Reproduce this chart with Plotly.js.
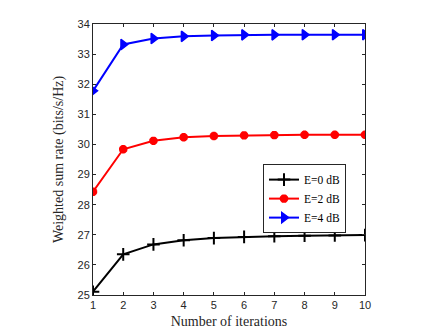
<!DOCTYPE html>
<html>
<head>
<meta charset="utf-8">
<script src="https://cdn.plot.ly/plotly-3.0.1.min.js"></script>
<style>
  body { margin: 0; background: #fff; }
  #chart { width: 443px; height: 332px; }
</style>
</head>
<body>
<div id="chart"></div>
<script>
// Data
const iterations = [1, 2, 3, 4, 5, 6, 7, 8, 9, 10];
const rateE0 = [25.11, 26.35, 26.68, 26.82, 26.89, 26.93, 26.95, 26.97, 26.98, 26.99];
const rateE2 = [28.43, 29.84, 30.12, 30.24, 30.28, 30.30, 30.31, 30.32, 30.32, 30.32];
const rateE4 = [31.78, 33.32, 33.52, 33.59, 33.62, 33.64, 33.64, 33.645, 33.645, 33.645];
const seriesNames = ['E=0 dB', 'E=2 dB', 'E=4 dB'];

const serif = '"Liberation Serif", "DejaVu Serif", serif';
const sans = '"Liberation Sans", Arial, sans-serif';

function makeTrace(y, name, color, symbol, size, lw) {
    return {
        x: iterations,
        y: y,
        name: name,
        type: 'scatter',
        mode: 'lines+markers',
        line: { color: color, width: 2 },
        marker: {
            symbol: symbol,
            size: size,
            color: color,
            line: { color: color, width: lw }
        }
    };
}

const traces = [
    makeTrace(rateE0, seriesNames[0], '#000000', 'cross-thin-open', 9, 2),
    makeTrace(rateE2, seriesNames[1], '#ff0000', 'asterisk-open', 7, 3),
    makeTrace(rateE4, seriesNames[2], '#0000ff', 'triangle-right', 9, 1.5)
];

const axisCommon = {
    showgrid: false,
    zeroline: false,
    showline: true,
    mirror: 'ticks',
    linecolor: '#262626',
    linewidth: 1,
    ticks: 'inside',
    ticklen: 3,
    tickcolor: '#262626',
    tickfont: { family: sans, size: 11, color: '#262626' }
};

const layout = {
    width: 443,
    height: 332,
    margin: { l: 93, r: 78, t: 24, b: 37 },
    paper_bgcolor: '#ffffff',
    plot_bgcolor: '#ffffff',
    showlegend: true,
    xaxis: Object.assign({}, axisCommon, {
        range: [1, 10],
        tickvals: iterations,
        title: { text: 'Number of iterations', font: { family: serif, size: 14, color: '#262626' }, standoff: 5 }
    }),
    yaxis: Object.assign({}, axisCommon, {
        range: [25, 34],
        dtick: 1,
        title: { text: 'Weighted sum rate (bits/s/Hz)', font: { family: serif, size: 14, color: '#262626' }, standoff: 10 }
    }),
    legend: {
        x: 0.625,
        y: 0.483,
        xanchor: 'left',
        yanchor: 'top',
        bgcolor: '#ffffff',
        bordercolor: '#262626',
        borderwidth: 1,
        font: { family: serif, size: 11.5, color: '#000000' },
        tracegroupgap: 0,
        itemwidth: 30
    }
};

Plotly.newPlot('chart', traces, layout, { displayModeBar: false, staticPlot: true });
</script>
</body>
</html>
